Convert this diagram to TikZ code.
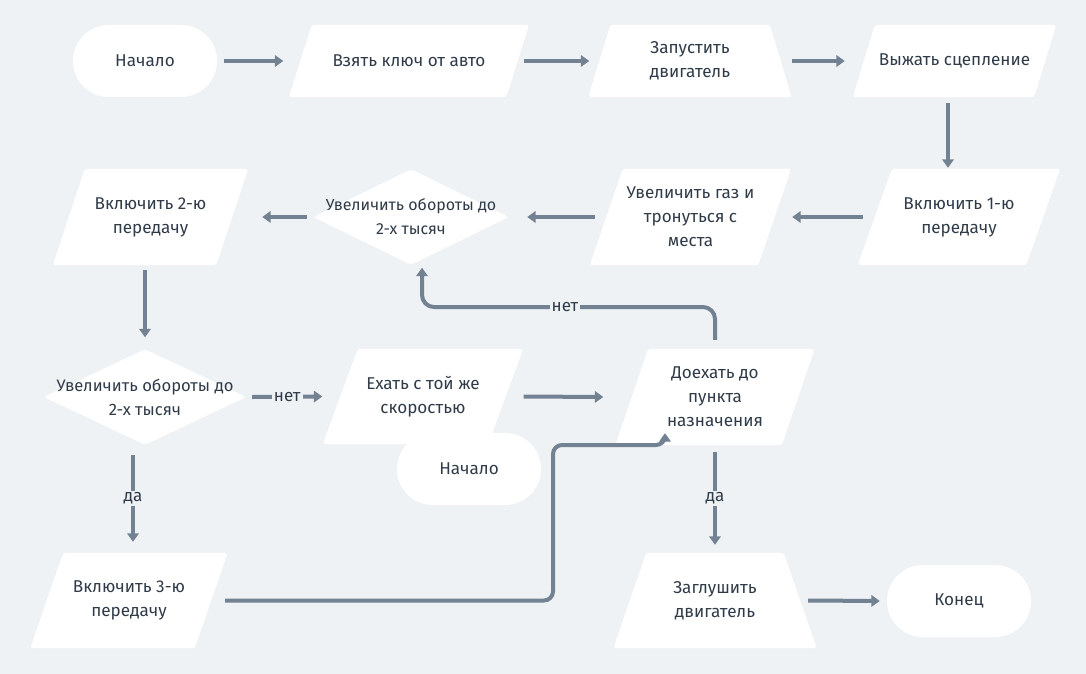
\documentclass[tikz,border=0pt]{standalone}
\usepackage{fontspec}
\setmainfont{Fira Sans}
\usetikzlibrary{arrows.meta,calc,backgrounds}
\definecolor{bg}{HTML}{EFF2F5}
\definecolor{ln}{HTML}{738292}
\definecolor{tx}{HTML}{2F3B48}
\tikzset{
  txt/.style={inner sep=0pt, align=center, text=tx, font=\fontsize{17.1}{24}\selectfont},
  dtxt/.style={txt, font=\fontsize{#1}{24}\selectfont},
  shp/.style={fill=white, rounded corners=3pt},
  term/.style={txt, fill=white, rounded corners=35.9pt, minimum width=144pt, minimum height=72pt},
  arr/.style={draw=ln, line width=4pt, -{Triangle[length=8.5pt,width=11.5pt]}},
  lbl/.style={fill=bg, inner sep=2pt, text=tx, font=\fontsize{17}{18}\selectfont},
}
\newcommand\pgm[2]{\fill[shp] ($(#1.north west)+(#2/2,0)$) -- ($(#1.north east)+(#2/2,0)$) -- ($(#1.south east)+(-#2/2,0)$) -- ($(#1.south west)+(-#2/2,0)$) -- cycle;}
\newcommand\trp[2]{\fill[shp] ($(#1.north west)+(#2/2,0)$) -- ($(#1.north east)+(-#2/2,0)$) -- ($(#1.south east)+(#2/2,0)$) -- ($(#1.south west)+(-#2/2,0)$) -- cycle;}
\newcommand\dmd[1]{\fill[shp] (#1.west) -- (#1.north) -- (#1.east) -- (#1.south) -- cycle;}
\begin{document}
\begin{tikzpicture}[x=1pt,y=-1pt]
\useasboundingbox (0,0) rectangle (1086,674);
% nodes
\node[term] (s1) at (145,61) {Начало};
\node[txt, minimum width=217pt, minimum height=72pt] (n2) at (409,61) {Взять ключ от авто};
\node[txt, minimum width=181pt, minimum height=72pt] (n3) at (690,61) {Запустить\\двигатель};
\node[txt, minimum width=181pt, minimum height=72pt] (n4) at (954.5,61) {Выжать сцепление};
\node[txt, minimum width=168pt, minimum height=96pt] (n5) at (959,217) {Включить 1-ю\\передачу};
\node[txt, minimum width=168pt, minimum height=96pt] (n6) at (690.5,217) {Увеличить газ и\\тронуться с\\места};
\node[dtxt=16, minimum width=195pt, minimum height=95pt] (d1) at (411,217) {Увеличить обороты до\\2-х тысяч};
\node[txt, minimum width=163pt, minimum height=96pt] (n7) at (150.5,217) {Включить 2-ю\\передачу};
\node[dtxt=16.6, minimum width=202pt, minimum height=95pt] (d2) at (145,397) {Увеличить обороты до\\2-х тысяч};
\node[txt, minimum width=165pt, minimum height=95pt] (n8) at (423,396.5) {Ехать с той же\\скоростью};
\node[term] (s2) at (469,469) {Начало};
\node[txt, minimum width=166pt, minimum height=96pt] (n9) at (715,397) {Доехать до\\пункта\\назначения};
\node[txt, minimum width=164pt, minimum height=95pt] (n10) at (129,600.5) {Включить 3-ю\\передачу};
\node[txt, minimum width=170pt, minimum height=95pt] (n11) at (715,600.5) {Заглушить\\двигатель};
\node[term] (s3) at (959,601) {Конец};
% shapes
\begin{scope}[on background layer]
\fill[bg] (0,0) rectangle (1086,674);
\pgm{n2}{23}
\trp{n3}{22}
\pgm{n4}{22}
\pgm{n5}{34}
\pgm{n6}{33}
\dmd{d1}
\pgm{n7}{32}
\dmd{d2}
\pgm{n8}{35}
\pgm{n9}{33}
\pgm{n10}{33}
\trp{n11}{33}
\end{scope}
% connectors
\coordinate (back) at (565,307);
\coordinate (jn) at (553,445);
\draw[arr] ($(s1.east)+(7,0)$) -- ($(n2.west)+(-17,0)$);
\draw[arr] ($(n2.east)+(6,0)$) -- ($(n3.west)+(-10,0)$);
\draw[arr] ($(n3.east)+(11,0)$) -- ($(n4.west)+(-19,0)$);
\draw[arr] ($(n4.south)+(-6.5,6)$) -- ($(n5.north)+(-11,-1)$);
\draw[arr] ($(n5.west)+(-12,0)$) -- ($(n6.east)+(17.5,0)$);
\draw[arr] ($(n6.west)+(-11.5,0)$) -- ($(d1.east)+(18.5,0)$);
\draw[arr] ($(d1.west)+(-6.5,0)$) -- ($(n7.east)+(30,0)$);
\draw[arr] ($(n7.south)+(-5.5,5)$) -- ($(d2.north)+(0,-12)$);
\draw[arr] ($(d2.east)+(6,0)$) -- node[lbl] {нет} ($(n8.west)+(-18,0)$);
\draw[arr] ($(n8.east)+(18,0)$) -- ($(n9.west)+(-28.5,0)$);
\draw[arr, rounded corners=12pt] ($(n9.north)+(0,-9)$) |- (back) -| ($(d1.south)+(11,3)$);
\node[lbl] (no2) at (back) {нет};
\draw[arr, rounded corners=9pt] ($(n10.east)+(14,0)$) -| (jn) -| ($(n9.south)+(-50,-12)$);
\draw[arr] ($(n9.south)+(0,7)$) -- node[lbl] {да} ($(n11.north)+(0,-8)$);
\draw[arr] ($(d2.south)+(-12,10.5)$) -- node[lbl] {да} ($(n10.north)+(4,-11)$);
\draw[arr] ($(n11.east)+(8,0)$) -- ($(s3.west)+(-7,0)$);
\end{tikzpicture}
\end{document}
